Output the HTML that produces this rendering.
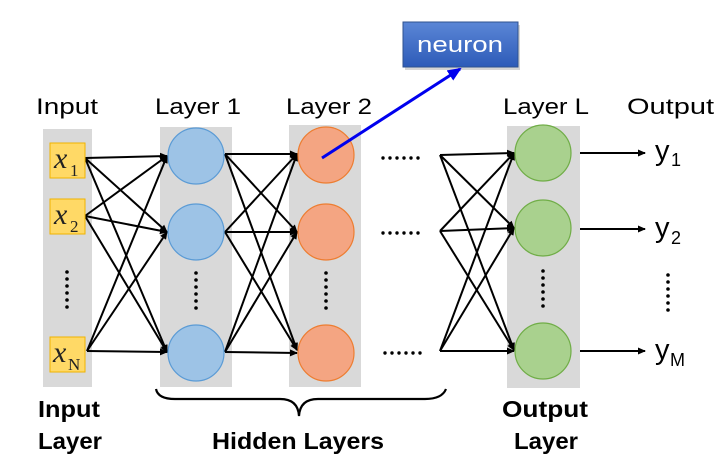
<!DOCTYPE html>
<html><head><meta charset="utf-8"><style>
html,body{margin:0;padding:0;background:#fff;}
svg{display:block;}
.s{font-family:"Liberation Sans",sans-serif;}
.m{font-family:"Liberation Serif",serif;}
</style></head><body>
<svg width="714" height="468" viewBox="0 0 714 468" xmlns="http://www.w3.org/2000/svg">
<defs>
<marker id="a" markerWidth="8" markerHeight="8" refX="7" refY="4" orient="auto" markerUnits="userSpaceOnUse"><path d="M0,0.5 L8,4 L0,7.5 Z" fill="#000"/></marker>
<marker id="b" markerWidth="14" markerHeight="12" refX="12" refY="6" orient="auto" markerUnits="userSpaceOnUse"><path d="M0,0 L14,6 L0,12 Z" fill="#0000ee"/></marker>
<linearGradient id="g" x1="0" y1="0" x2="0" y2="1"><stop offset="0" stop-color="#5b86d6"/><stop offset="1" stop-color="#2d5bb8"/></linearGradient>
<g id="vd"><circle cx="0" cy="0" r="1.8"/><circle cx="0" cy="7" r="1.8"/><circle cx="0" cy="14" r="1.8"/><circle cx="0" cy="21" r="1.8"/><circle cx="0" cy="28" r="1.8"/><circle cx="0" cy="35" r="1.8"/></g>
<g id="hd"><circle cx="0" cy="0" r="1.7"/><circle cx="7" cy="0" r="1.7"/><circle cx="14" cy="0" r="1.7"/><circle cx="21" cy="0" r="1.7"/><circle cx="28" cy="0" r="1.7"/><circle cx="35" cy="0" r="1.7"/></g>
</defs>
<rect x="43" y="129" width="49" height="258" fill="#d9d9d9"/>
<rect x="160" y="127" width="72" height="260" fill="#d9d9d9"/>
<rect x="289" y="125" width="72" height="262" fill="#d9d9d9"/>
<rect x="507" y="126" width="73" height="262" fill="#d9d9d9"/>
<g class="s" font-size="22" fill="#000">
<text x="36" y="114" textLength="62" lengthAdjust="spacingAndGlyphs">Input</text>
<text x="155" y="114" textLength="86" lengthAdjust="spacingAndGlyphs">Layer 1</text>
<text x="286" y="114" textLength="86" lengthAdjust="spacingAndGlyphs">Layer 2</text>
<text x="503" y="114" textLength="86" lengthAdjust="spacingAndGlyphs">Layer L</text>
<text x="627" y="114" textLength="87" lengthAdjust="spacingAndGlyphs">Output</text>
</g>
<g stroke="#000" stroke-width="2" marker-end="url(#a)" fill="none">
<line x1="85" y1="158" x2="167" y2="156"/><line x1="85" y1="158" x2="167" y2="232"/><line x1="85" y1="158" x2="167" y2="352"/>
<line x1="85" y1="216" x2="167" y2="156"/><line x1="85" y1="216" x2="167" y2="232"/><line x1="85" y1="216" x2="167" y2="352"/>
<line x1="87" y1="351" x2="167" y2="156"/><line x1="87" y1="351" x2="167" y2="232"/><line x1="87" y1="351" x2="167" y2="352"/>
<line x1="225" y1="154" x2="297" y2="154"/><line x1="225" y1="154" x2="297" y2="232"/><line x1="225" y1="154" x2="297" y2="350"/>
<line x1="225" y1="232" x2="297" y2="154"/><line x1="225" y1="232" x2="297" y2="232"/><line x1="225" y1="232" x2="297" y2="350"/>
<line x1="225" y1="352" x2="297" y2="154"/><line x1="225" y1="352" x2="297" y2="232"/><line x1="225" y1="352" x2="297" y2="353"/>
<line x1="440" y1="155" x2="514" y2="153"/><line x1="440" y1="155" x2="514" y2="228"/><line x1="440" y1="155" x2="514" y2="350"/>
<line x1="440" y1="231" x2="514" y2="153"/><line x1="440" y1="231" x2="514" y2="228"/><line x1="440" y1="231" x2="514" y2="350"/>
<line x1="440" y1="351" x2="514" y2="153"/><line x1="440" y1="351" x2="514" y2="228"/><line x1="440" y1="351" x2="514" y2="351"/>
<line x1="580" y1="153" x2="645" y2="153"/><line x1="580" y1="229" x2="645" y2="229"/><line x1="580" y1="351" x2="645" y2="351"/>
</g>
<g fill="#ffd966" stroke="#f0b400" stroke-width="1">
<rect x="50" y="143" width="35" height="35"/><rect x="50" y="199" width="35" height="35"/><rect x="50" y="337" width="35" height="35"/>
</g>
<g class="m" font-style="italic" font-size="30" fill="#222">
<text x="54" y="168">x</text><text x="54" y="224">x</text><text x="53" y="362">x</text>
</g>
<g class="m" font-size="17" fill="#222">
<text x="70" y="176">1</text><text x="70" y="232">2</text><text x="68" y="370">N</text>
</g>
<g fill="#9dc3e6" stroke="#5b9bd5" stroke-width="1.2">
<circle cx="196" cy="156" r="28"/><circle cx="196" cy="232" r="28"/><circle cx="196" cy="353" r="28"/></g>
<g fill="#f4a582" stroke="#ed7d31" stroke-width="1.2">
<circle cx="326" cy="155" r="28"/><circle cx="326" cy="232" r="28"/><circle cx="326" cy="353" r="28"/></g>
<g fill="#a9d18e" stroke="#70ad47" stroke-width="1.2">
<circle cx="543" cy="153" r="28"/><circle cx="543" cy="228" r="28"/><circle cx="543" cy="351" r="28"/></g>
<g fill="#000">
<use href="#vd" x="67" y="272"/><use href="#vd" x="196" y="273"/><use href="#vd" x="326" y="273"/><use href="#vd" x="543" y="271"/><use href="#vd" x="668" y="275"/>
<use href="#hd" x="383" y="158"/><use href="#hd" x="383" y="233"/><use href="#hd" x="385" y="353"/>
</g>
<g class="s" font-size="29" fill="#000">
<text x="655" y="160">y</text><text x="655" y="237">y</text><text x="655" y="359">y</text></g>
<g class="s" font-size="18" fill="#000">
<text x="671" y="166">1</text><text x="671" y="244">2</text><text x="670" y="366">M</text></g>
<rect x="405" y="25" width="115" height="45" fill="#888" opacity="0.35"/>
<rect x="403" y="22" width="115" height="45" fill="url(#g)" stroke="#2f528f" stroke-width="1"/>
<text class="s" x="460" y="52" font-size="22" fill="#fff" text-anchor="middle" textLength="86" lengthAdjust="spacingAndGlyphs">neuron</text>
<line x1="322" y1="158" x2="460" y2="69" stroke="#0000ee" stroke-width="3" marker-end="url(#b)"/>
<path d="M156,389 Q158,399 175,399 L280,399 Q298,399 299,416 Q300,399 318,399 L425,399 Q442,399 446,389" fill="none" stroke="#000" stroke-width="2.2"/>
<g class="s" font-size="23" font-weight="bold" fill="#000" text-anchor="middle">
<text x="69" y="417" textLength="62" lengthAdjust="spacingAndGlyphs">Input</text>
<text x="70" y="449" textLength="64" lengthAdjust="spacingAndGlyphs">Layer</text>
<text x="298" y="449" textLength="172" lengthAdjust="spacingAndGlyphs">Hidden Layers</text>
<text x="545" y="417" textLength="86" lengthAdjust="spacingAndGlyphs">Output</text>
<text x="546" y="449" textLength="64" lengthAdjust="spacingAndGlyphs">Layer</text>
</g>
</svg>
</body></html>
